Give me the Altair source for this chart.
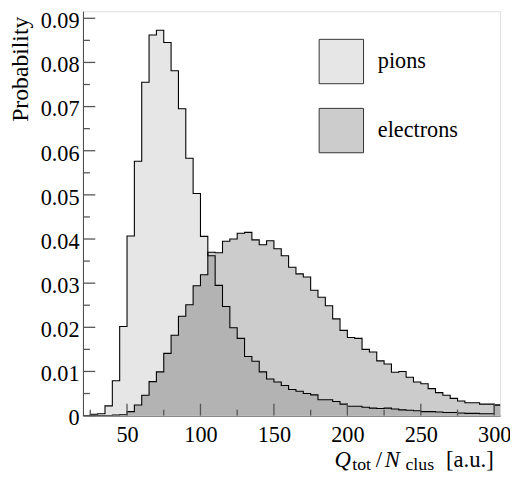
import altair as alt
import pandas as pd
import numpy as np

# bin lower edges (width 5)
edges = list(range(20, 305, 5))

pions = [0.0, 0.0003, 0.0004, 0.0022, 0.0079, 0.0202, 0.0407, 0.0576, 0.0755, 0.0862,
         0.0873, 0.0845, 0.0781, 0.0695, 0.0583, 0.0503, 0.0406, 0.0362, 0.0295, 0.0247,
         0.0199, 0.0175, 0.0134, 0.0123, 0.0099, 0.0083, 0.0076, 0.0068, 0.0059, 0.0055,
         0.0050, 0.0047, 0.0036, 0.0036, 0.0032, 0.0026, 0.0021, 0.0021, 0.0019, 0.0017,
         0.0016, 0.0017, 0.0015, 0.0013, 0.0012, 0.0011, 0.0009, 0.0009, 0.0008, 0.0007,
         0.0007, 0.0006, 0.0005, 0.0005, 0.0004, 0.0004, 0.0024]

electrons = [0.0, 0.0, 0.0, 0.0, 0.0001, 0.0002, 0.0009, 0.0024, 0.0046, 0.0077,
             0.0099, 0.0141, 0.0182, 0.0225, 0.0251, 0.0294, 0.0319, 0.0370, 0.0369, 0.0395,
             0.0400, 0.0413, 0.0415, 0.0398, 0.0387, 0.0396, 0.0378, 0.0362, 0.0336, 0.0321,
             0.0314, 0.0284, 0.0268, 0.0249, 0.0219, 0.0193, 0.0177, 0.0175, 0.0150, 0.0144,
             0.0124, 0.0117, 0.0098, 0.0100, 0.0087, 0.0076, 0.0072, 0.0061, 0.0052, 0.0046,
             0.0039, 0.0033, 0.0029, 0.0029, 0.0026, 0.0026, 0.0024]

series_names = ["pions", "electrons"]
fill_colors = ["#e6e6e6", "#cccccc"]
overlap_color = "#b3b3b3"

y_major = [0, 0.01, 0.02, 0.03, 0.04, 0.05, 0.06, 0.07, 0.08, 0.09]
y_minor = [0.005, 0.015, 0.025, 0.035, 0.045, 0.055, 0.065, 0.075, 0.085]
x_major = [50, 100, 150, 200, 250, 300]
x_minor = [25, 75, 125, 175, 225, 275]

FONT = "Liberation Serif"
LBL = 22.5
W, H = 423, 410

last_edge = edges[-1] + 5
xs = edges + [last_edge]
rows = []
for name, vals in zip(series_names, [pions, electrons]):
    v = vals + [vals[-1]]
    for x, y in zip(xs, v):
        rows.append({"x": x, "y": y, "series": name})
df = pd.DataFrame(rows)

ov = list(np.minimum(pions, electrons))
df_ov = pd.DataFrame({"x": xs, "y": ov + [ov[-1]]})

xscale = alt.Scale(domain=[20, 304], nice=False, zero=False)
yscale = alt.Scale(domain=[0, 0.0916], nice=False)

xaxis = alt.Axis(values=x_major, ticks=False, grid=False, title=None,
                 labelFont=FONT, labelFontSize=LBL, labelColor="black",
                 labelPadding=8, domainColor="#444")
yaxis = alt.Axis(values=y_major, ticks=False, grid=False,
                 labelExpr="datum.value == 0 ? '0' : format(datum.value, '.2f')",
                 labelFont=FONT, labelFontSize=LBL, labelColor="black",
                 labelPadding=4, labelOffset=2.5, domainColor="#444",
                 title="Probability", titleFont=FONT, titleFontSize=24,
                 titleFontWeight="normal", titleColor="black",
                 titleX=-56, titleY=5, titleAlign="right", titleAngle=-90,
                 titleBaseline="alphabetic")

areas = alt.Chart(df).mark_area(interpolate="step-after", clip=True).encode(
    x=alt.X("x:Q", scale=xscale, axis=xaxis),
    y=alt.Y("y:Q", scale=yscale, axis=yaxis, stack=None),
    color=alt.Color("series:N",
                    scale=alt.Scale(domain=series_names, range=fill_colors),
                    legend=alt.Legend(orient="none", legendX=239, legendY=28, title=None,
                                      symbolType="square", symbolSize=2025,
                                      symbolStrokeColor="#333", symbolStrokeWidth=1,
                                      symbolOpacity=1,
                                      labelFont=FONT, labelFontSize=LBL, labelColor="black",
                                      labelOffset=14, rowPadding=20, padding=0)),
)

overlap = alt.Chart(df_ov).mark_area(interpolate="step-after", clip=True,
                                      color=overlap_color).encode(
    x=alt.X("x:Q", scale=xscale, axis=xaxis),
    y=alt.Y("y:Q", scale=yscale, axis=yaxis, stack=None),
)

lines = alt.Chart(df).mark_line(interpolate="step-after", clip=True, color="black",
                                strokeWidth=1.1).encode(
    x=alt.X("x:Q", scale=xscale, axis=xaxis),
    y=alt.Y("y:Q", scale=yscale, axis=yaxis, stack=None),
    detail="series:N",
)

ytk = pd.DataFrame({"v": y_major + y_minor, "len": [12.5] * len(y_major) + [7] * len(y_minor)})
xtk = pd.DataFrame({"v": x_major + x_minor, "len": [12] * len(x_major) + [6] * len(x_minor)})

yticks = alt.Chart(ytk).mark_rule(color="#555", strokeWidth=1.3).encode(
    y=alt.Y("v:Q", scale=yscale, axis=yaxis),
    x=alt.value(0),
    x2=alt.value(12.5),
).transform_filter("datum.len > 10")
yticks_minor = alt.Chart(ytk).mark_rule(color="#555", strokeWidth=1.3).encode(
    y=alt.Y("v:Q", scale=yscale, axis=yaxis),
    x=alt.value(0),
    x2=alt.value(7),
).transform_filter("datum.len < 10")

xticks = alt.Chart(xtk).mark_rule(color="#555", strokeWidth=1.3).encode(
    x=alt.X("v:Q", scale=xscale, axis=xaxis),
    y=alt.value(H),
    y2=alt.value(H - 12),
).transform_filter("datum.len > 10")
xticks_minor = alt.Chart(xtk).mark_rule(color="#555", strokeWidth=1.3).encode(
    x=alt.X("v:Q", scale=xscale, axis=xaxis),
    y=alt.value(H),
    y2=alt.value(H - 6),
).transform_filter("datum.len < 10")

def txt(s, x, y, size=23, style="normal"):
    return alt.Chart(pd.DataFrame({"t": [s]})).mark_text(
        font=FONT, fontSize=size, fontStyle=style, align="left", baseline="alphabetic",
        color="black").encode(text="t:N", x=alt.value(x), y=alt.value(y))

title_parts = [
    txt("Q", 255, 462, 23, "italic"),
    txt("tot", 273, 465, 18),
    txt("/", 297, 462, 23),
    txt("N", 306, 462, 23, "italic"),
    txt("clus", 327, 465, 18),
    txt("[a.u.]", 368, 462, 23),
]

chart = alt.layer(areas, overlap, lines, yticks, yticks_minor, xticks, xticks_minor,
                  *title_parts).properties(
    width=W, height=H,
    padding={"left": 76, "top": 0, "right": 10, "bottom": 60},
    autosize=alt.AutoSizeParams(type="none"),
).configure_view(stroke="#444", strokeWidth=1).configure(background="white")

chart.save("out.html", embed_options={"renderer": "svg", "actions": False})
